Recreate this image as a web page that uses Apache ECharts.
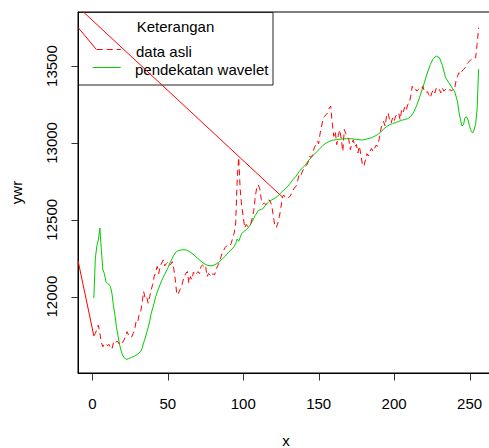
<!DOCTYPE html>
<html>
<head>
<meta charset="utf-8">
<script src="https://cdn.jsdelivr.net/npm/echarts@6/dist/echarts.min.js"></script>
<style>
html,body{margin:0;padding:0;background:#fff;}
#c{width:489px;height:448px;background:#fff;}
</style>
</head>
<body>
<div id="c"></div>
<script>
// ---- data ----
var xTicks = [0, 50, 100, 150, 200, 250];
var yTicks = [12000, 12500, 13000, 13500];
var legendTitle = 'Keterangan';
var seriesNames = ['data asli', 'pendekatan wavelet'];
var xTitle = 'x';
var yTitle = 'ywr';

// "data asli" (red dashed)
var dataAsli = [[1,11745],[2,11760],[3,11790],[4,11815],[5,11760],[6,11700],[7,11674],[8,11690],[9,11696],[10,11680],[11,11690],[12,11664],[13,11660],[14,11700],[15,11690],[16,11710],[17,11705],[18,11690],[19,11685],[20,11700],[21,11718],[22,11740],[23,11772],[24,11750],[25,11740],[26,11735],[27,11760],[28,11783],[29,11837],[30,11830],[31,11881],[32,11900],[33,11957],[34,12033],[35,11990],[36,12000],[37,11957],[38,12000],[39,12044],[40,12080],[41,12130],[42,12160],[43,12196],[44,12150],[45,12200],[46,12218],[47,12239],[48,12200],[49,12215],[50,12225],[51,12205],[52,12210],[53,12228],[54,12180],[55,12109],[56,12011],[57,12020],[58,12044],[59,12060],[60,12100],[61,12130],[62,12152],[63,12163],[64,12087],[65,12130],[66,12110],[67,12160],[68,12140],[69,12150],[70,12163],[71,12150],[72,12196],[73,12205],[74,12196],[75,12205],[76,12130],[77,12150],[78,12140],[79,12130],[80,12150],[81,12140],[82,12175],[83,12200],[84,12218],[85,12250],[86,12283],[87,12300],[88,12320],[89,12330],[90,12337],[91,12330],[92,12345],[93,12380],[94,12413],[95,12479],[96,12761],[97,12905],[98,12696],[99,12587],[100,12522],[101,12446],[102,12470],[103,12455],[104,12467],[105,12475],[106,12511],[107,12560],[108,12652],[109,12710],[110,12728],[111,12700],[112,12630],[113,12600],[114,12610],[115,12598],[116,12615],[117,12630],[118,12620],[119,12587],[120,12520],[121,12456],[122,12450],[123,12480],[124,12522],[125,12580],[126,12652],[127,12660],[128,12641],[129,12635],[130,12645],[131,12652],[132,12670],[133,12690],[134,12710],[135,12717],[136,12750],[137,12793],[138,12785],[139,12810],[140,12830],[141,12848],[142,12855],[143,12875],[144,12913],[145,12905],[146,12924],[147,12967],[148,12985],[149,13011],[150,12995],[151,13065],[152,13110],[153,13163],[154,13174],[155,13185],[156,13195],[157,13228],[158,13239],[159,13130],[160,13043],[161,13075],[162,12989],[163,13050],[164,13085],[165,13025],[166,12945],[167,13087],[168,13060],[169,13040],[170,13020],[171,12956],[172,13000],[173,13020],[174,12975],[175,12990],[176,12935],[177,12980],[178,12920],[179,12859],[180,12848],[181,12890],[182,12930],[183,12915],[184,12945],[185,12965],[186,12945],[187,12965],[188,12985],[189,12978],[190,13020],[191,13075],[192,13130],[193,13140],[194,13110],[195,13174],[196,13195],[197,13150],[198,13130],[199,13163],[200,13140],[201,13175],[202,13185],[203,13196],[204,13150],[205,13217],[206,13200],[207,13232],[208,13210],[209,13250],[210,13255],[211,13304],[212,13369],[213,13350],[214,13355],[215,13337],[216,13348],[217,13355],[218,13348],[219,13369],[220,13340],[221,13326],[222,13335],[223,13315],[224,13294],[225,13326],[226,13348],[227,13326],[228,13357],[229,13340],[230,13348],[231,13326],[232,13357],[233,13337],[234,13348],[235,13348],[236,13337],[237,13348],[238,13337],[239,13348],[240,13348],[241,13402],[242,13435],[243,13457],[244,13446],[245,13467],[246,13478],[247,13489],[248,13511],[249,13522],[250,13533],[251,13543],[252,13543],[253,13554],[254,13554],[255,13640],[256,13750]];

// "pendekatan wavelet" (green)
var wavelet = [[1,11990],[2,12250],[3,12330],[4,12370],[5,12446],[6,12300],[7,12174],[8,12150],[9,12098],[10,12087],[11,12080],[12,12065],[13,12020],[14,11940],[15,11880],[16,11800],[17,11745],[18,11690],[19,11650],[20,11620],[21,11605],[22,11594],[23,11592],[24,11596],[25,11600],[26,11605],[28,11613],[30,11625],[32,11645],[33,11664],[34,11700],[35,11730],[36,11765],[37,11800],[38,11840],[39,11890],[40,11925],[41,11960],[42,12000],[43,12030],[44,12055],[45,12080],[46,12105],[47,12125],[48,12145],[49,12165],[50,12185],[51,12210],[52,12230],[53,12250],[54,12270],[55,12285],[56,12295],[58,12302],[60,12305],[62,12304],[64,12295],[66,12282],[68,12265],[70,12248],[72,12230],[74,12215],[76,12205],[78,12200],[80,12202],[82,12212],[84,12225],[86,12245],[88,12262],[90,12285],[92,12304],[94,12326],[95,12345],[96,12375],[97,12360],[98,12385],[99,12410],[100,12420],[101,12428],[102,12435],[104,12456],[106,12489],[108,12528],[110,12560],[112,12568],[113,12572],[115,12598],[117,12618],[119,12630],[121,12640],[123,12655],[125,12675],[127,12695],[129,12712],[131,12735],[133,12762],[135,12783],[137,12813],[139,12835],[141,12855],[143,12882],[145,12905],[147,12925],[149,12945],[151,12965],[153,12985],[155,13000],[157,13010],[159,13017],[162,13022],[166,13026],[169,13028],[172,13027],[176,13022],[179,13019],[182,13026],[185,13034],[187,13043],[189,13054],[191,13069],[193,13090],[195,13106],[197,13118],[199,13127],[201,13132],[203,13140],[205,13148],[207,13152],[209,13158],[211,13172],[213,13200],[215,13245],[217,13300],[219,13360],[220,13391],[222,13455],[224,13510],[226,13550],[228,13565],[230,13555],[232,13505],[234,13428],[236,13395],[238,13365],[240,13337],[241,13305],[242,13270],[243,13200],[244,13150],[245,13110],[246,13120],[247,13165],[248,13170],[249,13150],[250,13108],[251,13080],[252,13065],[253,13085],[254,13120],[255,13220],[256,13480]];

// extra solid red segments seen in the plot (run off the plot edge, clipped)
var redSegA = [[-9.5,12235],[1,11745]];
var redSegB = [[-9.5,13885],[126.3,12645]];
var redSegC = [[-9.5,13752],[2.6,13609]];

var xMin = -9.5, xMax = 266.2;
var yMin = 11503, yMax = 13852;

// ---- chart ----
var FONT = '"Liberation Sans", Arial, sans-serif';
var chart = echarts.init(document.getElementById('c'), null, {renderer: 'svg'});

function solidRed(d){
  return {type:'line', data:d, symbol:'none', clip:true,
          lineStyle:{color:'#FF0000', width:1, type:'solid'}};
}
function plain(v){ return String(v); }

var legendGraphics = [
  {type:'rect', shape:{x:78.5, y:12.5, width:194.5, height:72.5}, style:{fill:'none', stroke:'#222', lineWidth:1}},
  {type:'text', x:175.5, y:26, style:{text:legendTitle, font:'15px '+FONT, fill:'#000', align:'center', verticalAlign:'middle'}},
  {type:'line', shape:{x1:96.7, y1:49.5, x2:120.7, y2:49.5}, style:{stroke:'#FF0000', lineWidth:1, lineDash:[6,4]}},
  {type:'text', x:136, y:51, style:{text:seriesNames[0], font:'15px '+FONT, fill:'#000', align:'left', verticalAlign:'middle'}},
  {type:'line', shape:{x1:92.7, y1:67.5, x2:120.7, y2:67.5}, style:{stroke:'#00CD00', lineWidth:1}},
  {type:'text', x:135, y:69, style:{text:seriesNames[1], font:'15px '+FONT, fill:'#000', align:'left', verticalAlign:'middle'}}
];

var option = {
  animation:false,
  grid:{left:78, top:12, width:416, height:361, show:true, borderColor:'#000', borderWidth:1,
        backgroundColor:'transparent', outerBoundsMode:'none'},
  xAxis:{
    type:'value', min:xMin, max:xMax,
    name:xTitle, nameLocation:'middle', nameGap:60,
    nameTextStyle:{fontFamily:FONT, fontSize:15, color:'#000'},
    axisLine:{show:true, onZero:false, lineStyle:{color:'#000', width:1}},
    splitLine:{show:false},
    axisTick:{show:false},
    axisLabel:{show:true, customValues:xTicks, formatter:plain, margin:23, fontFamily:FONT, fontSize:15, color:'#000'}
  },
  yAxis:{
    type:'value', min:yMin, max:yMax,
    name:yTitle, nameLocation:'middle', nameGap:54,
    nameTextStyle:{fontFamily:FONT, fontSize:15, color:'#000'},
    axisLine:{show:true, onZero:false, lineStyle:{color:'#000', width:1}},
    splitLine:{show:false},
    axisTick:{show:false},
    axisLabel:{show:true, rotate:90, customValues:yTicks, formatter:plain, margin:19, fontFamily:FONT, fontSize:15, color:'#000'}
  },
  series:[
    {name:seriesNames[1], type:'line', data:wavelet, symbol:'none', clip:true,
     lineStyle:{color:'#00CD00', width:1, type:'solid'}},
    {name:seriesNames[0], type:'line', data:dataAsli, symbol:'none', clip:true,
     lineStyle:{color:'#FF0000', width:1, type:[6,4]}},
    solidRed(redSegA), solidRed(redSegB), solidRed(redSegC)
  ],
  graphic:legendGraphics
};
chart.setOption(option);

// tick marks placed through the axes' own scales (converted from the tick value arrays)
var TICK = 7;
var bottomPx = Math.round(chart.convertToPixel({yAxisIndex:0}, yMin)) + 0.5;
var leftPx = Math.round(chart.convertToPixel({xAxisIndex:0}, xMin)) + 0.5;
var tickGraphics = [];
xTicks.forEach(function(v){
  var px = Math.round(chart.convertToPixel({xAxisIndex:0}, v)) + 0.5;
  tickGraphics.push({type:'line', shape:{x1:px, y1:bottomPx, x2:px, y2:bottomPx + TICK}, style:{stroke:'#333', lineWidth:1}});
});
yTicks.forEach(function(v){
  var py = Math.round(chart.convertToPixel({yAxisIndex:0}, v)) + 0.5;
  tickGraphics.push({type:'line', shape:{x1:leftPx - TICK, y1:py, x2:leftPx, y2:py}, style:{stroke:'#333', lineWidth:1}});
});
chart.setOption({graphic: legendGraphics.concat(tickGraphics)});
</script>
</body>
</html>
